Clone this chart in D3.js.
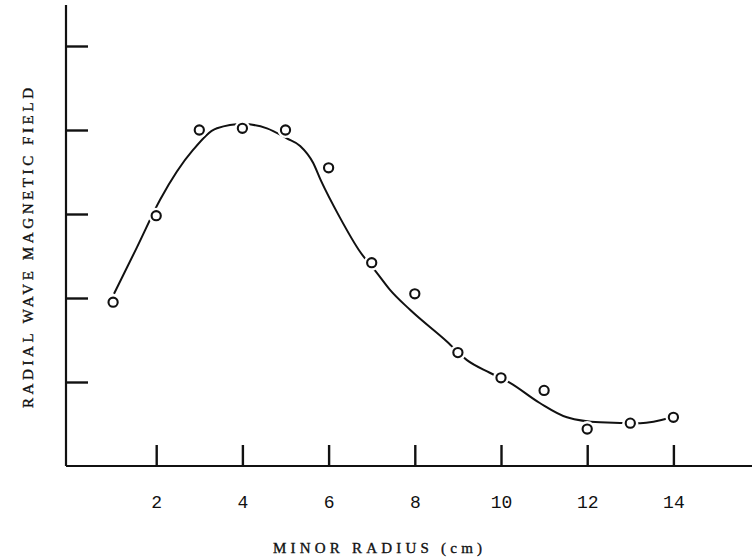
<!DOCTYPE html>
<html>
<head>
<meta charset="utf-8">
<script src="https://cdn.jsdelivr.net/npm/d3@7"></script>
<style>
    body { margin: 0; background: #fff; }
    svg text { fill: #111; }
    .axis text { font-family: "Liberation Mono", "DejaVu Sans Mono", monospace; }
    .title { font-family: "Liberation Serif", "DejaVu Serif", serif; stroke: #111; stroke-width: 0.35; }
    .axis path.domain { display: none; }
    .axis line { stroke: #111; stroke-width: 2.4; }
</style>
</head>
<body>
<div id="chart"></div>
<script>
// measured points (minor radius cm, field in arbitrary units)
const radius = [1, 2, 3, 4, 5, 6, 7, 8, 9, 10, 11, 12, 13, 14];
const field = [1.95, 2.98, 4.0, 4.02, 4.0, 3.55, 2.42, 2.05, 1.35, 1.05, 0.9, 0.44, 0.51, 0.58];

// hand-drawn fit curve
const fitX = [1.02, 1.55, 2.09, 2.85, 3.41, 4.01, 4.57, 5.03, 5.34, 5.64, 5.82, 6.26, 6.73, 7.12, 7.42, 7.89, 8.75, 9.21, 9.74, 10.21, 10.9, 11.53, 12.3, 13.23, 13.97];
const fitY = [2.05, 2.6, 3.17, 3.76, 4.02, 4.07, 4.02, 3.9, 3.81, 3.61, 3.4, 2.96, 2.55, 2.3, 2.1, 1.86, 1.48, 1.26, 1.11, 0.99, 0.75, 0.58, 0.52, 0.51, 0.58];

const xTicks = [2, 4, 6, 8, 10, 12, 14];
const yTicks = [1, 2, 3, 4, 5];

const width = 752, height = 558;
const x0 = 66, y0 = 466;

const svg = d3.select("#chart")
    .append("svg")
    .attr("width", width)
    .attr("height", height);

const x = d3.scaleLinear()
    .domain([0, 16])
    .range([70, 759.6]);

const y = d3.scaleLinear()
    .domain([0, 5.5])
    .range([y0, y0 - 84 * 5.5]);

// axis lines
svg.append("line")
    .attr("x1", x0).attr("x2", x0)
    .attr("y1", 5).attr("y2", y0)
    .attr("stroke", "#111").attr("stroke-width", 2.2);

svg.append("line")
    .attr("x1", x0).attr("x2", width)
    .attr("y1", y0).attr("y2", y0)
    .attr("stroke", "#111").attr("stroke-width", 2.2);

svg.append("g")
    .attr("class", "axis x-axis")
    .attr("transform", `translate(0,${y0})`)
    .call(d3.axisBottom(x).tickValues(xTicks).tickSize(-21).tickPadding(29))
    .selectAll("text")
    .attr("font-size", 18);

svg.append("g")
    .attr("class", "axis y-axis")
    .attr("transform", `translate(${x0},0)`)
    .call(d3.axisLeft(y).tickValues(yTicks).tickSize(-22).tickFormat(""));

// fit curve
const fit = fitX.map((d, i) => [d, fitY[i]]);
svg.append("path")
    .datum(fit)
    .attr("fill", "none")
    .attr("stroke", "#111")
    .attr("stroke-width", 2)
    .attr("d", d3.line().x(d => x(d[0])).y(d => y(d[1])).curve(d3.curveMonotoneX));

// points with white halo so the line breaks around them
const pts = radius.map((d, i) => ({ r: d, v: field[i] }));
svg.selectAll(".halo")
    .data(pts)
    .join("circle")
    .attr("class", "halo")
    .attr("cx", d => x(d.r))
    .attr("cy", d => y(d.v))
    .attr("r", 8)
    .attr("fill", "#fff");

svg.selectAll(".pt")
    .data(pts)
    .join("circle")
    .attr("class", "pt")
    .attr("cx", d => x(d.r))
    .attr("cy", d => y(d.v))
    .attr("r", 4.6)
    .attr("fill", "#fff")
    .attr("stroke", "#111")
    .attr("stroke-width", 2.1);

// axis titles
svg.append("text")
    .attr("class", "title")
    .attr("x", 273)
    .attr("y", 553)
    .attr("font-size", 15)
    .attr("textLength", 209)
    .attr("lengthAdjust", "spacing")
    .text("MINOR RADIUS (cm)");

svg.append("text")
    .attr("class", "title")
    .attr("transform", "translate(33,408) rotate(-90)")
    .attr("font-size", 15)
    .attr("textLength", 320)
    .attr("lengthAdjust", "spacing")
    .text("RADIAL WAVE MAGNETIC FIELD");
</script>
</body>
</html>
